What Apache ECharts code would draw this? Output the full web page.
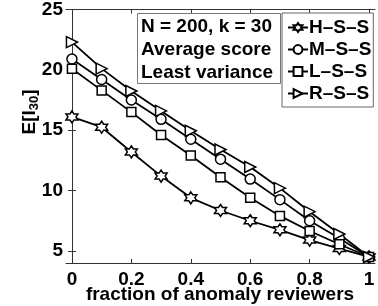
<!DOCTYPE html>
<html><head><meta charset="utf-8">
<script src="https://cdn.jsdelivr.net/npm/echarts@6/dist/echarts.min.js"></script>
<style>html,body{margin:0;padding:0;background:#fff}#c{width:378px;height:306px}</style>
</head><body><div id="c"></div>
<script>
const xValues = [0, 0.1, 0.2, 0.3, 0.4, 0.5, 0.6, 0.7, 0.8, 0.9, 1];
const seriesNames = ['H–S–S', 'M–S–S', 'L–S–S', 'R–S–S'];
const hss = [16.1, 15.25, 13.2, 11.2, 9.4, 8.35, 7.5, 6.75, 5.9, 5.2, 4.5];
const mss = [20.9, 19.2, 17.5, 15.9, 14.25, 12.6, 10.95, 9.25, 7.5, 6.05, 4.5];
const lss = [20.1, 18.3, 16.5, 14.6, 12.9, 11.1, 9.4, 7.9, 6.65, 5.55, 4.5];
const rss = [22.3, 20.1, 18.25, 16.6, 14.95, 13.4, 11.95, 10.2, 8.25, 6.4, 4.5];
const xTicks = [0, 0.2, 0.4, 0.6, 0.8, 1];
const yTicks = [5, 10, 15, 20, 25];
const infoLines = ['N = 200, k = 30', 'Average score', 'Least variance'];

const hexagram = 'path://M0,-10 L2.887,-5 L8.66,-5 L5.77,0 L8.66,5 L2.887,5 L0,10 L-2.887,5 L-8.66,5 L-5.77,0 L-8.66,-5 L-2.887,-5 Z';
const FONT = 'Liberation Sans, Arial, Helvetica, sans-serif';
const pair = d => xValues.map((x, i) => [x, d[i]]);
const mk = (name, data, symbol, size, rot) => ({
  name, type: 'line', data: pair(data), symbol, symbolSize: size, symbolRotate: rot || 0,
  lineStyle: { color: '#000', width: 1.8 },
  itemStyle: { color: '#fff', borderColor: '#000', borderWidth: 1.5 },
  emphasis: { disabled: true }, animation: false, z: 3
});

const chart = echarts.init(document.getElementById('c'), null, { renderer: 'canvas' });
const axisCommon = {
  type: 'value', axisLine: { show: true, lineStyle: { color: '#333', width: 1 } },
  splitLine: { show: false }
};
chart.setOption({
  animation: false,
  grid: { left: 66, right: 3, top: 9, bottom: 43 },
  xAxis: [
    Object.assign({}, axisCommon, { min: -0.02, max: 1.02,
      axisTick: { show: true, inside: true, length: 4, customValues: xTicks, lineStyle: { color: '#333' } },
      axisLabel: { customValues: xTicks, margin: 7, color: '#000', fontFamily: FONT, fontWeight: 'bold', fontSize: 19,
        formatter: v => String(+v.toFixed(1)) } }),
    Object.assign({}, axisCommon, { min: -0.02, max: 1.02, position: 'top',
      axisTick: { show: true, inside: true, length: 4, customValues: xTicks, lineStyle: { color: '#333' } },
      axisLabel: { show: false } })
  ],
  yAxis: [
    Object.assign({}, axisCommon, { min: 4, max: 25,
      axisTick: { show: true, inside: true, length: 4, customValues: yTicks, lineStyle: { color: '#333' } },
      axisLabel: { customValues: yTicks, margin: 3, color: '#000', fontFamily: FONT, fontWeight: 'bold', fontSize: 19 } }),
    Object.assign({}, axisCommon, { min: 4, max: 25, position: 'right',
      axisTick: { show: true, inside: true, length: 4, customValues: yTicks, lineStyle: { color: '#333' } },
      axisLabel: { show: false } })
  ],
  legend: {
    orient: 'vertical', left: 282, top: 13, width: 91,
    padding: [5, 2, 4, 5], itemGap: 3, itemWidth: 20, itemHeight: 11,
    backgroundColor: '#fff', borderColor: '#666', borderWidth: 1,
    textStyle: { color: '#000', fontFamily: FONT, fontWeight: 'bold', fontSize: 19, padding: [0, 0, 0, -4] },
    data: seriesNames, selectedMode: false
  },
  series: [
    mk(seriesNames[0], hss, hexagram, 12),
    mk(seriesNames[1], mss, 'circle', 10),
    mk(seriesNames[2], lss, 'rect', 9),
    mk(seriesNames[3], rss, 'triangle', 11, -90)
  ],
  graphic: [
    { type: 'rect', shape: { x: 137.5, y: 13.5, width: 143, height: 70 },
      style: { fill: '#fff', stroke: '#777', lineWidth: 1 }, z: 10 },
    { type: 'text', x: 141, y: 27, z: 11, style: { text: infoLines[0], font: 'bold 19px ' + FONT, fill: '#000', verticalAlign: 'middle' } },
    { type: 'text', x: 141, y: 50, z: 11, style: { text: infoLines[1], font: 'bold 19px ' + FONT, fill: '#000', verticalAlign: 'middle' } },
    { type: 'text', x: 141, y: 73, z: 11, style: { text: infoLines[2], font: 'bold 19px ' + FONT, fill: '#000', verticalAlign: 'middle' } },
    { type: 'text', x: 220, y: 295, style: { text: 'fraction of anomaly reviewers', font: 'bold 19px ' + FONT, fill: '#000', align: 'center', verticalAlign: 'middle' } },
    { type: 'text', x: 30, y: 112, rotation: Math.PI / 2,
      style: { text: 'E[I{s|30}]', font: 'bold 19px ' + FONT, fill: '#000', align: 'center', verticalAlign: 'middle',
        rich: { s: { font: 'bold 13px ' + FONT, fill: '#000', verticalAlign: 'bottom', padding: [8, 0, 0, 0] } } } }
  ]
});
</script></body></html>
